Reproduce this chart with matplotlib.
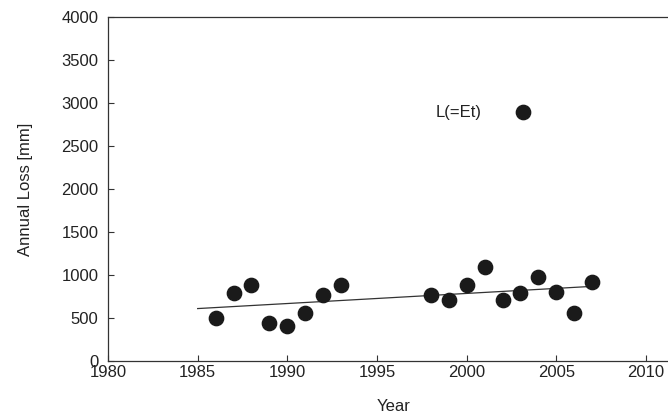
import matplotlib
matplotlib.use("Agg")
import matplotlib.pyplot as plt
import numpy as np

years = [1986, 1987, 1988, 1989, 1990, 1991, 1992, 1993,
         1998, 1999, 2000, 2001, 2002, 2003, 2004, 2005, 2006, 2007]
loss = [496, 794, 884, 445, 410, 555, 764, 884,
        764, 709, 887, 1097, 709, 794, 980, 799, 558, 919]
trend_span = [1985, 2007]
xticks = [1980, 1985, 1990, 1995, 2000, 2005, 2010]
yticks = [0, 500, 1000, 1500, 2000, 2500, 3000, 3500, 4000]

plt.rcParams['font.family'] = ['Liberation Sans', 'DejaVu Sans']
plt.rcParams['font.size'] = 12
ink = '#222222'

fig = plt.figure(figsize=(6.68, 4.12), dpi=100)
ax = fig.add_axes([0.1617, 0.1238, 0.859, 0.835])

# linear trend over the whole record
coef = np.polyfit(years, loss, 1)
tx = np.array(trend_span)
ax.plot(tx, np.polyval(coef, tx), color='#333333', lw=0.9, zorder=2)

ax.plot(years, loss, 'o', color='#1a1a1a', markersize=10.3, ls='none',
        label='L(=Et)', zorder=3)

ax.set_xlim(1980, 2012)
ax.set_ylim(0, 4000)
ax.set_xticks(xticks)
ax.set_yticks(yticks)
ax.tick_params(direction='in', length=4.3, width=0.8, colors='#333333',
               labelcolor=ink)
ax.tick_params(axis='y', pad=7)
ax.tick_params(axis='x', pad=3)
for s in ax.spines.values():
    s.set_color('#333333')
    s.set_linewidth(0.9)

ax.set_xlabel('Year', color=ink)
ax.set_ylabel('Annual Loss [mm]', color=ink)
ax.xaxis.set_label_coords(0.497, -0.11)
ax.yaxis.set_label_coords(-0.131, 0.5)

ax.legend(loc='center left', bbox_to_anchor=(0.5716, 0.721), frameon=False,
          markerfirst=False, handletextpad=1.45, borderpad=0,
          borderaxespad=0, numpoints=1, labelcolor=ink)

fig.savefig('out.png', dpi=100)
